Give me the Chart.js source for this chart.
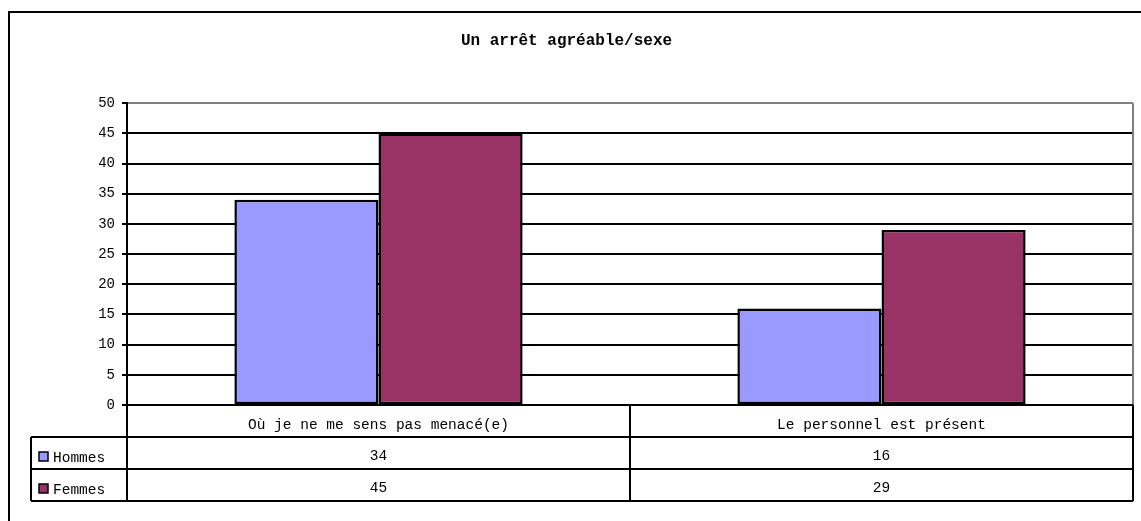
<!DOCTYPE html>
<html>
<head>
<meta charset="utf-8">
<script src="https://cdn.jsdelivr.net/npm/chart.js@4/dist/chart.umd.min.js"></script>
<style>
  html, body { margin: 0; padding: 0; background: #fff; }
  #wrap { width: 1141px; height: 521px; }
</style>
</head>
<body>
<div id="wrap"><canvas id="chart"></canvas></div>
<script>
const categories = ["Où je ne me sens pas menacé(e)", "Le personnel est présent"];
const hommes = [34, 16];
const femmes = [45, 29];
const seriesNames = ["Hommes", "Femmes"];
const seriesColors = ["#9999ff", "#993366"];
const titleText = "Un arrêt agréable/sexe";

const FONT = "'Liberation Mono', 'Courier New', monospace";

// frame + data table under the plot, like the old spreadsheet chart
const tablePlugin = {
  id: "tablePlugin",
  afterDraw(chart) {
    const ctx = chart.ctx;
    const area = chart.chartArea;
    const x = chart.scales.x;
    const rowH = 32;
    const top = area.bottom;
    const r1 = top + rowH, r2 = top + rowH * 2, r3 = top + rowH * 3;
    const legendLeft = 31;
    const mid = (x.getPixelForValue(0) + x.getPixelForValue(1)) / 2;

    ctx.save();
    // outer frame
    ctx.strokeStyle = "#000";
    ctx.lineWidth = 2;
    ctx.strokeRect(9, 12, 1150, 530);

    // gray right edge of plot
    ctx.strokeStyle = "#808080";
    ctx.beginPath();
    ctx.moveTo(area.right, area.top);
    ctx.lineTo(area.right, area.bottom);
    ctx.stroke();

    ctx.strokeStyle = "#000";
    ctx.beginPath();
    ctx.moveTo(area.left, top); ctx.lineTo(area.right, top);
    [r1, r2, r3].forEach(y => { ctx.moveTo(legendLeft, y); ctx.lineTo(area.right, y); });
    ctx.moveTo(legendLeft, r1); ctx.lineTo(legendLeft, r3);
    ctx.moveTo(area.left, top); ctx.lineTo(area.left, r3);
    ctx.moveTo(mid, top); ctx.lineTo(mid, r3);
    ctx.moveTo(area.right, top); ctx.lineTo(area.right, r3);
    ctx.stroke();

    ctx.font = "14.5px " + FONT;
    ctx.fillStyle = "#000";
    ctx.textBaseline = "middle";
    const rows = [hommes, femmes];
    rows.forEach((vals, i) => {
      const yc = top + rowH * (i + 1) + rowH / 2 + 4;
      // legend key
      ctx.fillStyle = seriesColors[i];
      ctx.fillRect(39, yc - 5, 9, 9);
      ctx.strokeStyle = "#000";
      ctx.lineWidth = 1.5;
      ctx.strokeRect(39, yc - 5, 9, 9);
      ctx.fillStyle = "#000";
      ctx.textAlign = "left";
      ctx.fillText(seriesNames[i], 53, yc + 1);
      ctx.textAlign = "center";
      vals.forEach((v, j) => {
        ctx.fillText(String(v), x.getPixelForValue(j), yc - 1);
      });
    });
    ctx.restore();
  }
};

new Chart(document.getElementById("chart"), {
  type: "bar",
  data: {
    labels: categories,
    datasets: [
      {
        label: seriesNames[0],
        data: hommes,
        backgroundColor: seriesColors[0],
        borderColor: "#000",
        borderWidth: 2.5,
        borderSkipped: false,
      },
      {
        label: seriesNames[1],
        data: femmes,
        backgroundColor: seriesColors[1],
        borderColor: "#000",
        borderWidth: 2.5,
        borderSkipped: false,
      },
    ],
  },
  options: {
    responsive: true,
    maintainAspectRatio: false,
    animation: false,
    layout: { padding: { left: 0, right: 8, top: 0, bottom: 0 } },
    plugins: {
      legend: { display: false },
      tooltip: { enabled: false },
      title: {
        display: true,
        text: titleText,
        color: "#000",
        font: { family: FONT, size: 16, weight: "bold" },
        padding: { top: 31, bottom: 53 },
      },
    },
    datasets: {
      bar: { categoryPercentage: 0.573, barPercentage: 1 },
    },
    scales: {
      x: {
        grid: { display: false, drawTicks: false },
        border: { display: false },
        ticks: {
          color: "#000",
          padding: 11,
          font: { family: FONT, size: 14.5 },
          maxRotation: 0,
        },
        afterFit(scale) { scale.height = 116; },
      },
      y: {
        min: 0,
        max: 50,
        ticks: {
          stepSize: 5,
          color: "#000",
          padding: 7,
          font: { family: FONT, size: 14 },
        },
        grid: {
          color: (c) => (c.tick && c.tick.value === 50 ? "#808080" : "#000"),
          tickColor: "#000",
          lineWidth: 2,
          tickLength: 5,
        },
        border: { color: "#000", width: 2 },
        afterFit(scale) { scale.width = 127; },
      },
    },
  },
  plugins: [tablePlugin],
});
</script>
</body>
</html>
